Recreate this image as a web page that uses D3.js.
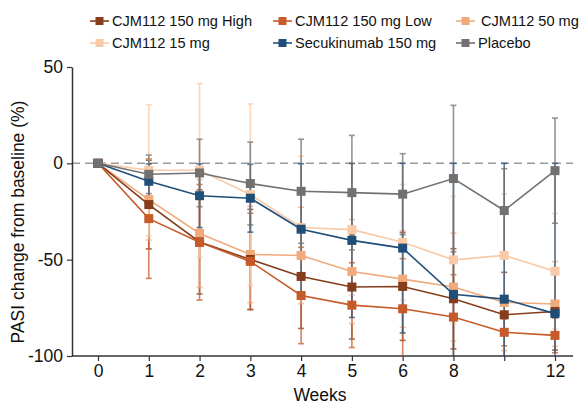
<!DOCTYPE html>
<html><head><meta charset="utf-8">
<script src="https://cdn.jsdelivr.net/npm/d3@7"></script>
<style>body{margin:0;background:#fff;} text{font-family:"Liberation Sans",Arial,sans-serif;}</style>
</head><body><svg id="c" width="579" height="406"></svg>
<script>
const weeks = ["0","1","2","3","4","5","6","8","10","12"];
const weekLabels = ["0","1","2","3","4","5","6","8","","12"];
const seriesNames = ["CJM112 150 mg High","CJM112 150 mg Low","CJM112 50 mg","CJM112 15 mg","Secukinumab 150 mg","Placebo"];
const seriesColors = ["#853d1b","#c65a28","#f0aa7b","#f8caa8","#1f4e79","#727070"];
const high  = [0,-21.4,-40.8,-49.9,-58.7,-64.2,-63.9,-70.3,-78.6,-76.9];
const low   = [0,-28.7,-41.0,-50.9,-68.6,-73.6,-75.5,-79.8,-87.7,-89.3];
const mg50  = [0,-18.8,-36.4,-47.3,-47.8,-56.1,-60.1,-64.2,-72.2,-73.0];
const mg15  = [0,-3.6,-3.6,-16.2,-33.3,-34.4,-41.0,-50.1,-47.8,-56.0];
const secu  = [0,-9.3,-16.8,-18.1,-34.2,-40.0,-44.0,-68.0,-70.5,-78.0];
const plac  = [0,-5.7,-5.0,-10.5,-14.5,-15.2,-16.0,-7.9,-24.5,-3.8];
const highSD = [0,23,27,26,27,27,28,26,22,20];
const lowSD  = [0,31,30,25,25,22,26,22,7,9];
const mg50SD = [0,21,28,25,25,27,25,28,25,22];
const mg15SD = [0,34,45,47,37,34,30,33,32,30];
const secuSD = [0,9,16.5,17.6,34,40,44,68,70.5,78];
const placSD = [0,10,17.5,21.5,27,29.7,21,38,21.7,27.3];
const yTicks = [50,0,-50,-100];
const yTickLabels = ["50","0","-50","-100"];

const values = [high,low,mg50,mg15,secu,plac];
const sds = [highSD,lowSD,mg50SD,mg15SD,secuSD,placSD];

const svg = d3.select("#c");
const x = d3.scalePoint().domain(weeks).range([98,555]);
const y = d3.scaleLinear().domain([-100,50]).range([356,67]);

svg.append("defs").append("clipPath").attr("id","clip")
  .append("rect").attr("x",72).attr("y",60).attr("width",510).attr("height",296);

svg.append("line").attr("x1",72).attr("x2",573).attr("y1",y(0)).attr("y2",y(0))
  .attr("stroke","#9a9a9a").attr("stroke-width",1.5).attr("stroke-dasharray","8,5");

const yAxis = d3.axisLeft(y).tickValues(yTicks).tickFormat((d,i)=>yTickLabels[i]).tickSize(5).tickSizeOuter(0);
const gy = svg.append("g").attr("transform","translate(72,0)").call(yAxis);
gy.select(".domain").attr("stroke","#333").attr("stroke-width",1.5);
gy.selectAll(".tick line").attr("stroke","#333").attr("stroke-width",1.2);
gy.selectAll(".tick text").attr("font-size",17.5).attr("fill","#111").attr("x",-9);

const xAxis = d3.axisBottom(x).tickFormat((d,i)=>weekLabels[i]).tickSize(5).tickSizeOuter(0);
const gx = svg.append("g").attr("transform","translate(0,356)").call(xAxis);
gx.select(".domain").attr("d","M72,0H573").attr("stroke","#333").attr("stroke-width",1.5);
gx.selectAll(".tick line").attr("stroke","#333").attr("stroke-width",1.2);
gx.selectAll(".tick text").attr("font-size",17.5).attr("fill","#111").attr("y",9);

const gErr = svg.append("g").attr("clip-path","url(#clip)");
values.forEach((vals,si)=>{
  const col = seriesColors[si];
  vals.forEach((v,i)=>{
    const sd = sds[si][i];
    if(!sd) return;
    const cx = x(weeks[i]);
    const g = gErr.append("g").attr("stroke",col).attr("stroke-width",1.6).attr("opacity",0.75);
    g.append("line").attr("x1",cx).attr("x2",cx).attr("y1",y(v+sd)).attr("y2",y(v-sd));
    g.append("line").attr("x1",cx-3).attr("x2",cx+3).attr("y1",y(v+sd)).attr("y2",y(v+sd));
    g.append("line").attr("x1",cx-3).attr("x2",cx+3).attr("y1",y(v-sd)).attr("y2",y(v-sd));
  });
});

const line = d3.line().x((d,i)=>x(weeks[i])).y(d=>y(d));
const drawOrder = [3,2,0,1,4,5];
drawOrder.forEach(si=>{
  const col = seriesColors[si];
  svg.append("path").datum(values[si]).attr("d",line)
    .attr("fill","none").attr("stroke",col).attr("stroke-width",1.6);
  svg.append("g").selectAll("rect").data(values[si]).join("rect")
    .attr("x",(d,i)=>x(weeks[i])-4.5).attr("y",d=>y(d)-4.5)
    .attr("width",9).attr("height",9).attr("fill",col);
});

const legendPos = [[90,21],[273,21],[456,21],[90,43],[273,43],[456,43]];
seriesNames.forEach((name,si)=>{
  const [lx,ly] = legendPos[si];
  const g = svg.append("g").attr("transform",`translate(${lx},${ly})`);
  g.append("line").attr("x1",0).attr("x2",19).attr("y1",0).attr("y2",0)
    .attr("stroke",seriesColors[si]).attr("stroke-width",1.6);
  g.append("rect").attr("x",5.5).attr("y",-4).attr("width",8).attr("height",8).attr("fill",seriesColors[si]);
  g.append("text").attr("x", si===2 ? 25 : 22).attr("y",0).attr("dy","0.35em")
    .attr("font-size",14.6).attr("fill","#111").text(name);
});

svg.append("text").attr("transform","translate(24,222) rotate(-90)").attr("text-anchor","middle")
  .attr("font-size",17.5).attr("fill","#111").text("PASI change from baseline (%)");
svg.append("text").attr("x",320).attr("y",401).attr("text-anchor","middle")
  .attr("font-size",17.5).attr("fill","#111").text("Weeks");
</script></body></html>
